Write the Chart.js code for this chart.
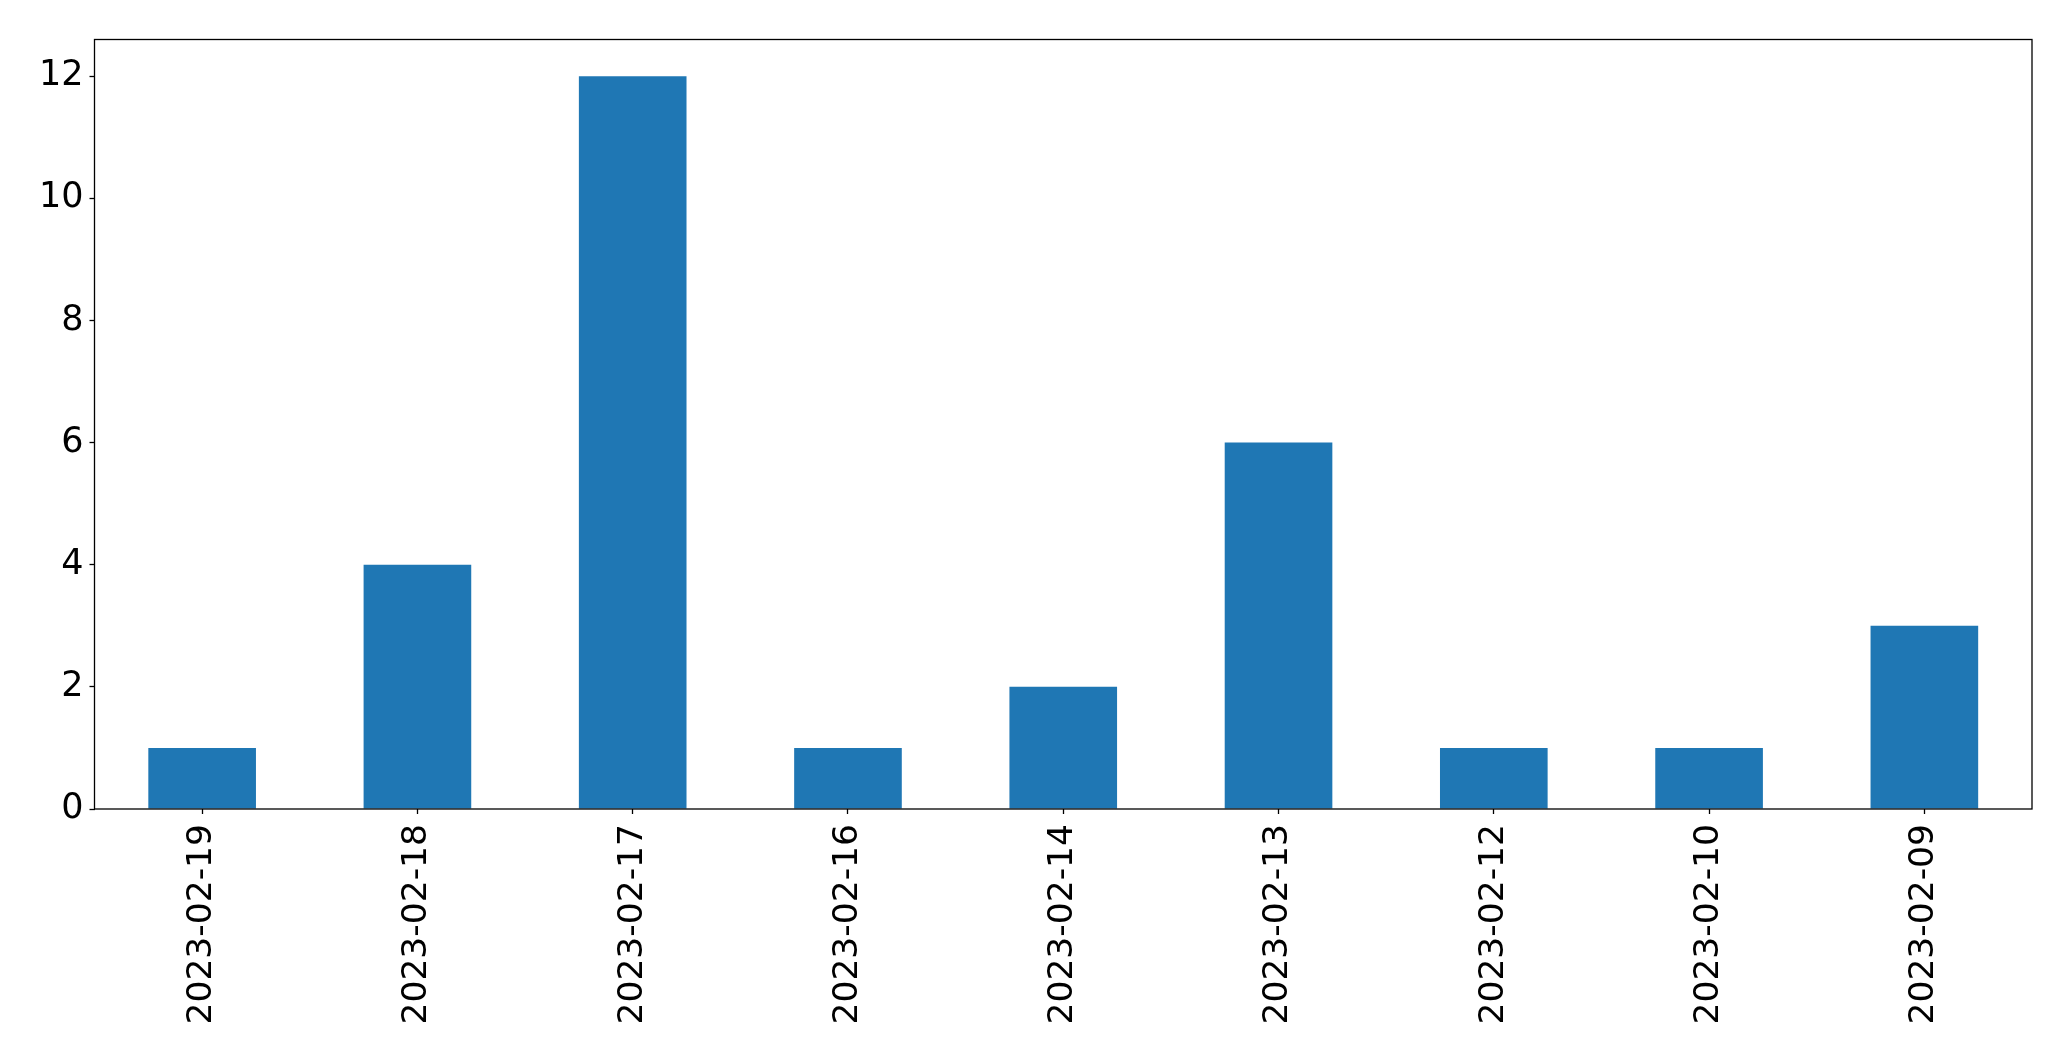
<!DOCTYPE html>
<html>
<head>
<meta charset="utf-8">
<script src="https://cdn.jsdelivr.net/npm/chart.js@4"></script>
<style>
  html, body { margin: 0; padding: 0; background: #fff; }
  canvas { display: block; }
</style>
</head>
<body>
<canvas id="chart" width="2071" height="1061"></canvas>
<script>
const dates = ['2023-02-19', '2023-02-18', '2023-02-17', '2023-02-16', '2023-02-14',
               '2023-02-13', '2023-02-12', '2023-02-10', '2023-02-09'];
const counts = [1, 4, 12, 1, 2, 6, 1, 1, 3];
const yTicks = [0, 2, 4, 6, 8, 10, 12];

// box around the plot, like matplotlib's spines
const frame = {
    id: 'frame',
    afterDraw(chart) {
        const a = chart.chartArea;
        const ctx = chart.ctx;
        ctx.save();
        ctx.strokeStyle = '#000';
        ctx.lineWidth = 1.3;
        ctx.strokeRect(a.left, a.top, a.right - a.left, a.bottom - a.top);
        ctx.restore();
    }
};

const ctx = document.getElementById('chart').getContext('2d');
const chart = new Chart(ctx, {
    type: 'bar',
    data: {
        labels: dates,
        datasets: [{
            data: counts,
            backgroundColor: '#1f77b4',
            borderWidth: 0,
            barPercentage: 0.5,
            categoryPercentage: 1
        }]
    },
    options: {
        responsive: false,
        animation: false,
        layout: { padding: { left: 0, top: 39.5, right: 39, bottom: 0 } },
        plugins: { legend: { display: false }, tooltip: { enabled: false } },
        scales: {
            x: {
                grid: { offset: false, drawOnChartArea: false, color: '#000', tickLength: 5, tickWidth: 1.3 },
                border: { display: false },
                ticks: {
                    color: '#000',
                    font: { family: 'DejaVu Sans', size: 34.5 },
                    maxRotation: 90,
                    minRotation: 90,
                    padding: 10,
                    autoSkip: false
                },
                afterFit: s => { s.height = 252; }
            },
            y: {
                min: 0,
                max: 12.6,
                grid: { drawOnChartArea: false, color: '#000', tickLength: 5, tickWidth: 1.3 },
                border: { display: false },
                afterBuildTicks: s => { s.ticks = yTicks.map(v => ({ value: v })); },
                ticks: {
                    color: '#000',
                    font: { family: 'DejaVu Sans', size: 35 },
                    padding: 6
                },
                afterFit: s => { s.width = 94.5; }
            }
        }
    },
    plugins: [frame]
});
</script>
</body>
</html>
